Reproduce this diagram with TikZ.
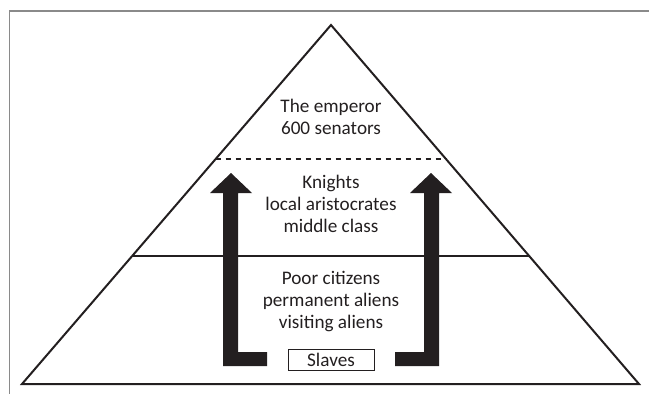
\documentclass[tikz,border=0pt]{standalone}
\usepackage{fontspec}
\setmainfont{Carlito}
\definecolor{ink}{HTML}{231F20}
\definecolor{frame}{HTML}{8A8A8A}
\begin{document}
\begin{tikzpicture}[x=1pt,y=-1pt,
  edge/.style={draw=ink,line width=2pt},
  txt/.style={align=center,text=ink,font=\fontsize{19.2}{22.4}\selectfont,inner sep=0pt},
  bigarrow/.style={fill=ink,draw=none}]
\useasboundingbox (0,0) rectangle (649,394);
% frame
\draw[frame,line width=1.6pt] (9.5,394) -- (9.5,11) -- (649,11);
% pyramid
\coordinate (apex) at (331,25);
\coordinate (bl) at (22,384);
\coordinate (br) at (639,384);
\draw[edge,line join=miter] (apex) -- (br) -- (bl) -- cycle;
% dividing lines
\coordinate (dL) at (215.6,159);
\coordinate (dR) at (446.4,159);
\draw[edge,dash pattern=on 5.5pt off 4.5pt] (dL) -- (dR);
\coordinate (sL) at (132,256);
\coordinate (sR) at (530,256);
\draw[edge] (sL) -- (sR);
% arrows
\fill[bigarrow] (231,173) -- (252,193) -- (238,193) -- (238,352) -- (267,352) -- (267,366)
  -- (223,366) -- (223,193) -- (210,193) -- cycle;
\fill[bigarrow] (431,173) -- (452,193) -- (439,193) -- (439,366) -- (395,366) -- (395,352)
  -- (424,352) -- (424,193) -- (410,193) -- cycle;
% texts
\node[txt] (top) at (331,117) {The emperor\\600 senators};
\node[txt] (mid) at (331,204) {Knights\\local aristocrates\\middle class};
\node[txt] (low) at (331,301.5) {Poor citizens\\permanent aliens\\visiting aliens};
\node[txt,draw=ink,line width=0.9pt,minimum width=86pt,minimum height=21pt] (slaves) at (331,359.5) {Slaves};
\end{tikzpicture}
\end{document}
